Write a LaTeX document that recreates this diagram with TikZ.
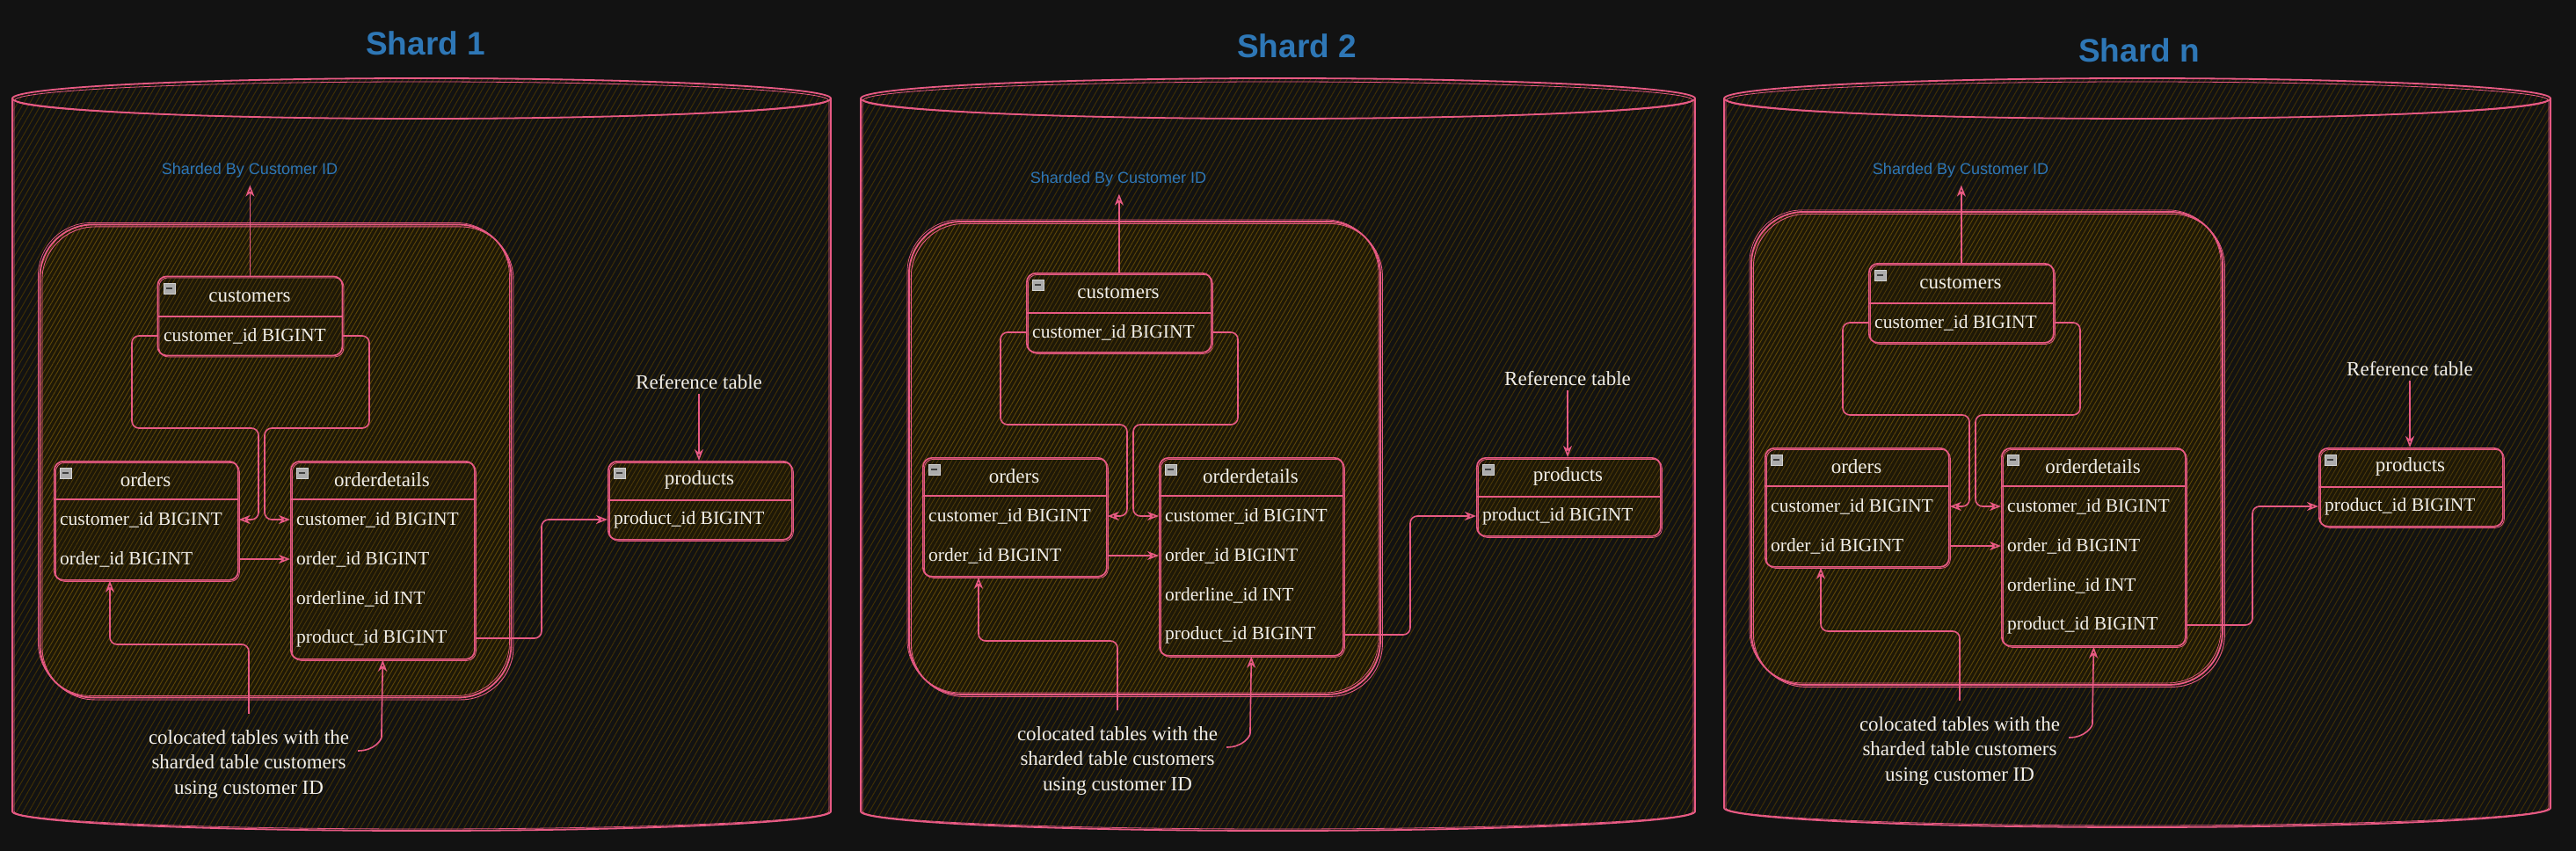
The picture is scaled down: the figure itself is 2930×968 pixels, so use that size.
\documentclass[tikz,border=0pt]{standalone}
\usepackage{fontspec}
\setmainfont{Liberation Serif}
\newfontfamily\sansfnt{Liberation Sans}
\usetikzlibrary{arrows.meta,patterns.meta,calc}
\definecolor{bgc}{HTML}{121212}
\definecolor{pinkc}{HTML}{E85A84}
\definecolor{hatchc}{HTML}{3E2F06}
\definecolor{ghatch}{HTML}{5E4708}
\definecolor{gbase}{HTML}{1E1807}
\definecolor{bluec}{HTML}{2E77B6}
\definecolor{txtc}{HTML}{F2EFE8}

\tikzset{
  cylfill/.style={pattern={Lines[angle=60,distance=6pt,line width=1pt]}, pattern color=hatchc},
  outl/.style={draw=pinkc, line width=1.8pt},
  grp/.style={draw=pinkc, line width=1.8pt, rounded corners=60pt, inner sep=0pt,
    preaction={fill=gbase}, pattern={Lines[angle=60,distance=4.5pt,line width=0.9pt]}, pattern color=ghatch,
    postaction={draw=pinkc, line width=0.9pt, transform canvas={shift={(2.5pt,-2.5pt)}}},
    postaction={draw=pinkc, line width=0.7pt, transform canvas={shift={(-2pt,2pt)}}}},
  tbl/.style={draw=pinkc, line width=1.7pt, rounded corners=10pt, inner sep=0pt,
    preaction={fill=gbase}, pattern={Lines[angle=60,distance=4.5pt,line width=0.8pt]}, pattern color=ghatch!85!black,
    postaction={draw=pinkc, line width=0.8pt, transform canvas={shift={(1.5pt,-1.5pt)}}}},
  divl/.style={draw=pinkc, line width=1.9pt},
  hdr/.style={text=txtc, font=\fontsize{23}{27}\selectfont, inner sep=0pt},
  rowtxt/.style={anchor=west, text=txtc, font=\fontsize{21.5}{25}\selectfont, inner sep=0pt},
  plaintxt/.style={text=txtc, font=\fontsize{23}{28.5}\selectfont, inner sep=0pt, align=center},
  lbl/.style={text=bluec, font=\sansfnt\fontsize{18}{22}\selectfont, inner sep=0pt},
  shardtitle/.style={text=bluec, font=\sansfnt\bfseries\fontsize{37}{40}\selectfont, inner sep=0pt},
  icon/.style={anchor=north west, minimum width=13pt, minimum height=12pt, inner sep=0pt,
    fill=gray!65, draw=gray!35, line width=0.6pt,
    path picture={\draw[black!75, line width=1.8pt] ([xshift=3pt]path picture bounding box.west) -- ([xshift=-3pt]path picture bounding box.east);}},
  conn/.style={draw=pinkc, line width=1.6pt, rounded corners=8pt,
    -{Stealth[open, length=13pt, width=10pt, inset=4pt]}},
}

\newcommand{\cylshape}[5]{%
  \pgfmathsetmacro\cylrx{(#3-#2)/2}%
  \pgfmathsetmacro\cylcx{(#3+#2)/2}%
  \path[cylfill] (#2,#4) -- (#2,#5) arc[start angle=180,end angle=360,x radius=\cylrx pt,y radius=22pt]
     -- (#3,#4) arc[start angle=0,end angle=180,x radius=\cylrx pt,y radius=23pt] -- cycle;
  \draw[outl] (#2,#4) -- (#2,#5) arc[start angle=180,end angle=360,x radius=\cylrx pt,y radius=22pt] -- (#3,#4);
  \draw[outl] (\cylcx,#4) ellipse[x radius=\cylrx pt, y radius=23pt];
  \draw[outl, line width=0.8pt] (#2+2,#4+3) -- (#2+2,#5) arc[start angle=180,end angle=360,x radius=\cylrx pt-2pt,y radius=20pt] -- (#3-2,#4+3);
  \draw[outl, line width=0.8pt] (\cylcx,#4+2) ellipse[x radius=\cylrx pt-3pt, y radius=21pt];
  \coordinate (#1) at (\cylcx,#4);
}

\newcommand{\shardbody}[4]{%
\begin{scope}[shift={(#2,#3)}]
  \node[grp, minimum width=536pt, minimum height=538pt, anchor=north west] (#1grp) at (45,255) {};
  \node[lbl] (#1lbl) at (284,#4) {Sharded By Customer ID};
  % customers
  \node[tbl, minimum width=210pt, minimum height=90pt, anchor=north west] (#1cust) at (179,314) {};
  \draw[divl] (179,360) -- (389,360);
  \node[hdr] (#1custh) at (284,337) {customers};
  \node[rowtxt] (#1custr1) at (186,382) {customer\_id BIGINT};
  \node[icon] (#1custi) at ([shift={(7pt,-8pt)}]#1cust.north west) {};
  % orders
  \node[tbl, minimum width=209pt, minimum height=135pt, anchor=north west] (#1ord) at (61,524) {};
  \draw[divl] (61,568) -- (270,568);
  \node[hdr] (#1ordh) at (165.5,546) {orders};
  \node[rowtxt] (#1ordr1) at (68,591) {customer\_id BIGINT};
  \node[rowtxt] (#1ordr2) at (68,636) {order\_id BIGINT};
  \node[icon] (#1ordi) at ([shift={(7pt,-8pt)}]#1ord.north west) {};
  % orderdetails
  \node[tbl, minimum width=209pt, minimum height=225pt, anchor=north west] (#1od) at (330,524) {};
  \draw[divl] (330,568) -- (539,568);
  \node[hdr] (#1odh) at (434.5,546) {orderdetails};
  \node[rowtxt] (#1odr1) at (337,591) {customer\_id BIGINT};
  \node[rowtxt] (#1odr2) at (337,636) {order\_id BIGINT};
  \node[rowtxt] (#1odr3) at (337,681) {orderline\_id INT};
  \node[rowtxt] (#1odr4) at (337,726) {product\_id BIGINT};
  \node[icon] (#1odi) at ([shift={(7pt,-8pt)}]#1od.north west) {};
  % products
  \node[tbl, minimum width=209pt, minimum height=89pt, anchor=north west] (#1prod) at (691,524) {};
  \draw[divl] (691,569) -- (900,569);
  \node[hdr] (#1prodh) at (795.5,546) {products};
  \node[rowtxt] (#1prodr1) at (698,591) {product\_id BIGINT};
  \node[icon] (#1prodi) at ([shift={(7pt,-8pt)}]#1prod.north west) {};
  % notes
  \node[plaintxt] (#1ref) at (795,435) {Reference table};
  \node[plaintxt] (#1colo) at (283,869) {colocated tables with the\\sharded table customers\\using customer ID};
  % connectors
  \draw[conn, shorten >=8pt] (#1cust.north) -- (#1cust.north |- #1lbl.south);
  \draw[conn, shorten <=5pt] (#1ref.south) -- (#1prod.north -| #1ref.south);
  \draw[conn] (#1cust.west |- #1custr1) -| (150,487) -- (294,487) |- (#1ord.east |- #1ordr1);
  \draw[conn] (#1cust.east |- #1custr1) -| (420,487) -- (301,487) |- (#1od.west |- #1odr1);
  \draw[conn] (#1ord.east |- #1ordr2) -- (#1od.west |- #1ordr2);
  \draw[conn] (#1od.east |- #1odr4) -| (616,650) |- (#1prod.west |- #1prodr1);
  \draw[conn] ([yshift=18pt]#1colo.north) |- (125,733) -- (#1ord.south -| 125,0);
  \draw[conn] ([shift={(10pt,15pt)}]#1colo.east) .. controls +(18,0) and +(0,12) .. (434,830) -- (#1od.south);
\end{scope}}

\begin{document}
\begin{tikzpicture}[x=1pt,y=-1pt]
  \fill[bgc] (0,0) rectangle (2930,968);
  \useasboundingbox (0,0) rectangle (2930,968);
  \cylshape{cyl1}{14}{945}{112}{923}
  \cylshape{cyl2}{979}{1928}{112}{923}
  \cylshape{cyl3}{1961}{2901}{112}{919}
  \node[shardtitle] (t1) at (484,49) {Shard 1};
  \node[shardtitle] (t2) at (1475,52) {Shard 2};
  \node[shardtitle] (t3) at (2433,57) {Shard n};
  \shardbody{a}{0}{0}{194}
  \shardbody{b}{988}{-4}{208}
  \shardbody{c}{1946}{-15}{209}
\end{tikzpicture}
\end{document}
